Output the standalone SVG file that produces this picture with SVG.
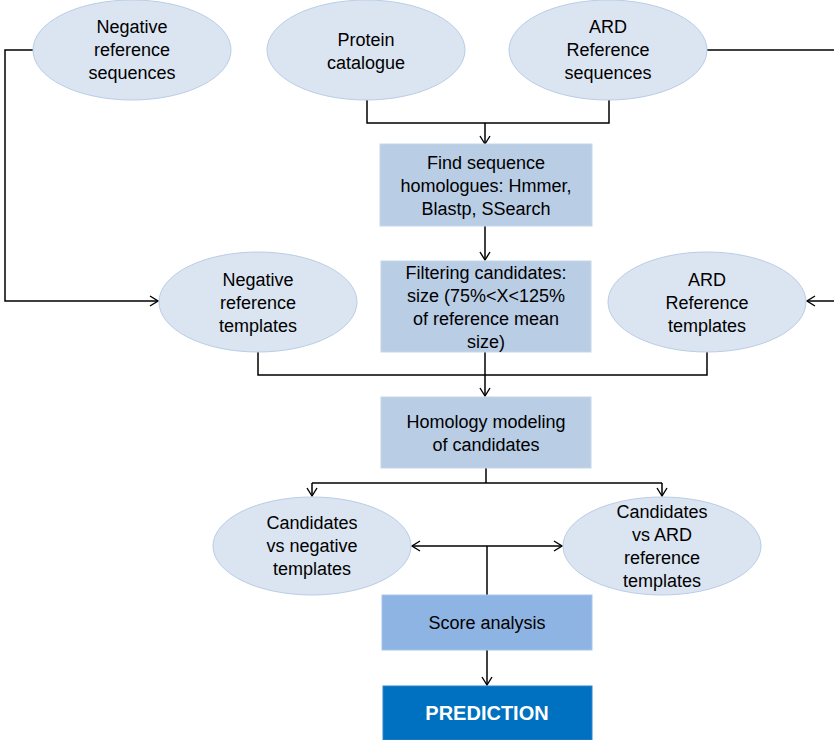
<svg xmlns="http://www.w3.org/2000/svg" width="834" height="740" viewBox="0 0 834 740">
<defs>
<marker id="arr" markerWidth="12" markerHeight="12" refX="10" refY="6" orient="auto" markerUnits="userSpaceOnUse">
<path d="M2,1 L10,6 L2,11" fill="none" stroke="#000" stroke-width="1.4"/>
</marker>
<marker id="arrs" markerWidth="12" markerHeight="12" refX="2" refY="6" orient="auto" markerUnits="userSpaceOnUse">
<path d="M10,1 L2,6 L10,11" fill="none" stroke="#000" stroke-width="1.4"/>
</marker>
</defs>
<style>
.ell{fill:#dbe5f1;stroke:#b9cde5;stroke-width:1}
.box{fill:#b9cde5;stroke:#c6d6ea;stroke-width:1}
.score{fill:#8eb4e3;stroke:#a7c4ea;stroke-width:1}
.pred{fill:#0070c0;stroke:#2a86cc;stroke-width:1}
text{font-family:"Liberation Sans",Arial,sans-serif;font-size:18px;fill:#000;text-anchor:middle}
.pt{fill:#fff;font-weight:bold;font-size:20px}
.c{fill:none;stroke:#000;stroke-width:1.5}
</style>
<g id="connectors">
<path class="c" d="M367,100 V123 H609 V100"/>
<path class="c" d="M485,123 V144" marker-end="url(#arr)"/>
<path class="c" d="M33,50 H5 V301 H158" marker-end="url(#arr)"/>
<path class="c" d="M707,50 H834"/>
<path class="c" d="M834,301 H807" marker-end="url(#arr)"/>
<path class="c" d="M485,226 V260" marker-end="url(#arr)"/>
<path class="c" d="M258,352 V375 H707 V352"/>
<path class="c" d="M485,352 V396" marker-end="url(#arr)"/>
<path class="c" d="M486,468 V483"/>
<path class="c" d="M312,483 H662"/>
<path class="c" d="M312,483 V496" marker-end="url(#arr)"/>
<path class="c" d="M662,483 V496" marker-end="url(#arr)"/>
<path class="c" d="M412,546 H562" marker-start="url(#arrs)" marker-end="url(#arr)"/>
<path class="c" d="M487,546 V595"/>
<path class="c" d="M487,650 V685" marker-end="url(#arr)"/>
</g>
<g id="neg-ref-seq">
<ellipse class="ell" cx="132" cy="50" rx="99" ry="50"/>
<text x="132" y="33">Negative</text>
<text x="132" y="56">reference</text>
<text x="132" y="79">sequences</text>
</g>
<g id="protein-catalogue">
<ellipse class="ell" cx="366" cy="50" rx="99" ry="50"/>
<text x="366" y="46">Protein</text>
<text x="366" y="69">catalogue</text>
</g>
<g id="ard-ref-seq">
<ellipse class="ell" cx="608" cy="50" rx="99" ry="50"/>
<text x="608" y="33">ARD</text>
<text x="608" y="56">Reference</text>
<text x="608" y="79">sequences</text>
</g>
<g id="find-homologues">
<rect class="box" x="380" y="144" width="212" height="82"/>
<text x="486" y="169">Find sequence</text>
<text x="486" y="192">homologues: Hmmer,</text>
<text x="486" y="215">Blastp, SSearch</text>
</g>
<g id="neg-ref-templates">
<ellipse class="ell" cx="258" cy="302" rx="99" ry="50"/>
<text x="258" y="286">Negative</text>
<text x="258" y="309">reference</text>
<text x="258" y="332">templates</text>
</g>
<g id="filtering">
<rect class="box" x="381" y="261" width="210" height="91"/>
<text x="486" y="279">Filtering candidates:</text>
<text x="486" y="302">size (75%&lt;X&lt;125%</text>
<text x="486" y="325">of reference mean</text>
<text x="486" y="348">size)</text>
</g>
<g id="ard-ref-templates">
<ellipse class="ell" cx="707" cy="302" rx="99" ry="50"/>
<text x="707" y="286">ARD</text>
<text x="707" y="309">Reference</text>
<text x="707" y="332">templates</text>
</g>
<g id="homology-modeling">
<rect class="box" x="381" y="397" width="210" height="71"/>
<text x="486" y="428">Homology modeling</text>
<text x="486" y="451">of candidates</text>
</g>
<g id="cand-neg">
<ellipse class="ell" cx="312" cy="546" rx="99" ry="49"/>
<text x="312" y="529">Candidates</text>
<text x="312" y="552">vs negative</text>
<text x="312" y="575">templates</text>
</g>
<g id="cand-ard">
<ellipse class="ell" cx="662" cy="546" rx="99" ry="49"/>
<text x="662" y="518">Candidates</text>
<text x="662" y="541">vs ARD</text>
<text x="662" y="564">reference</text>
<text x="662" y="587">templates</text>
</g>
<g id="score-analysis">
<rect class="score" x="382" y="595" width="210" height="55"/>
<text x="487" y="629">Score analysis</text>
</g>
<g id="prediction">
<rect class="pred" x="383" y="686" width="209" height="54"/>
<text class="pt" x="487" y="720">PREDICTION</text>
</g>
</svg>
